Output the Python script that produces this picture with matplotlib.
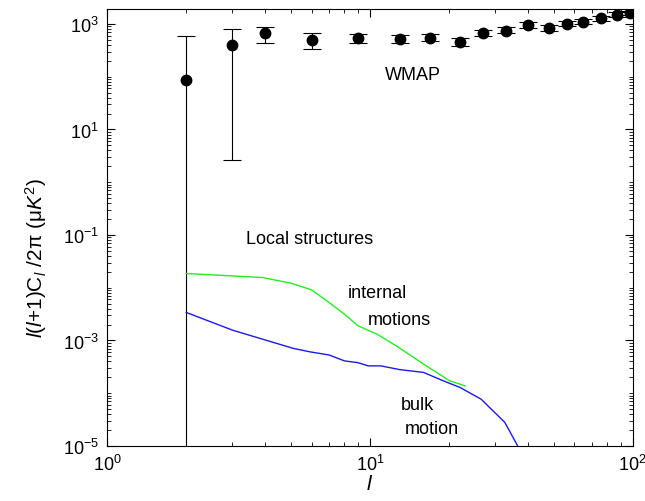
import numpy as np
import matplotlib
matplotlib.use('Agg')
import matplotlib.pyplot as plt
from matplotlib.ticker import LogLocator, FixedLocator, NullFormatter

plt.rcParams['font.family'] = ['Liberation Sans', 'DejaVu Sans']
plt.rcParams['mathtext.fontset'] = 'custom'
plt.rcParams['mathtext.rm'] = 'Liberation Sans'
plt.rcParams['mathtext.it'] = 'Liberation Sans:italic'

# WMAP binned power spectrum
wmap_l = [2, 3, 4, 6, 9, 13, 17, 22, 27, 33, 40, 48, 56, 64.5, 75.5, 87, 98]
wmap_cl = [85, 400, 660, 494, 540, 510, 550, 460, 670, 750, 950, 830, 1000, 1110, 1270, 1510, 1630]
wmap_hi = [580, 790, 860, 660, 650, 620, 640, 540, 780, 860, 1080, 940, 1120, 1230, 1400, 1660, 1780]
wmap_lo = [1e-7, 2.6, 440, 330, 440, 430, 470, 390, 580, 660, 850, 740, 900, 1000, 1150, 1380, 1500]

# local structures: internal motions
int_l = [2, 3.9, 5, 6, 7, 8, 9, 10.6, 12.6, 16, 20.1, 23]
int_cl = [0.0186, 0.0156, 0.0122, 0.0091, 0.0052, 0.00315, 0.0019, 0.00133, 0.00079, 0.000356, 0.000172, 0.000138]

# local structures: bulk motion
bulk_l = [2, 3, 3.9, 5.1, 5.9, 7, 8, 9, 9.85, 11, 13, 16, 19, 22, 26.5, 32.6, 36.5, 38]
bulk_cl = [0.0034, 0.00157, 0.00106, 0.00071, 0.00061, 0.00053, 0.00041, 0.00038, 0.00033, 0.00033,
           0.00028, 0.000248, 0.000172, 0.000129, 7.7e-5, 2.8e-5, 1e-5, 6e-6]

fig = plt.figure(figsize=(6.45, 5.02), dpi=100)
ax = fig.add_axes([0.166, 0.1096, 0.815, 0.870])

wmap_cl = np.array(wmap_cl)
yerr = [wmap_cl - np.array(wmap_lo), np.array(wmap_hi) - wmap_cl]
ax.errorbar(wmap_l, wmap_cl, yerr=yerr, fmt='o', color='black', ms=7.5,
            ecolor='black', elinewidth=0.8, capsize=6.5, capthick=0.8)

ax.plot(int_l, int_cl, color='#22ee22', lw=1.0)
ax.plot(bulk_l, bulk_cl, color='#1a1aee', lw=1.0)

ax.set_xscale('log')
ax.set_yscale('log')
ax.set_xlim(1, 100)
ax.set_ylim(1e-5, 1.9e3)

ax.yaxis.set_major_locator(FixedLocator([1e-5, 1e-3, 1e-1, 1e1, 1e3]))
ax.yaxis.set_minor_locator(LogLocator(base=10, subs=np.arange(1, 10), numticks=30))
ax.yaxis.set_minor_formatter(NullFormatter())
ax.xaxis.set_minor_locator(LogLocator(base=10, subs=np.arange(2, 10), numticks=30))
ax.xaxis.set_minor_formatter(NullFormatter())
ax.tick_params(which='both', direction='in', top=True, right=True, labelsize=13)
ax.tick_params(which='major', length=6, pad=6)
ax.tick_params(which='minor', length=3)

ax.set_xlabel('$l$', fontsize=15, labelpad=0)
ax.set_ylabel('$l$($l$+1)C$_l$ /2π (μ$K^2$)', fontsize=15)
ax.yaxis.set_label_coords(-0.110, 0.432)

ax.text(14.6, 110, 'WMAP', fontsize=13, ha='center', va='center')
ax.text(3.38, 0.087, 'Local structures', fontsize=13, ha='left', va='center')
ax.text(10.7, 0.0082, 'internal', fontsize=13, ha='center', va='center')
ax.text(12.9, 0.00253, 'motions', fontsize=13, ha='center', va='center')
ax.text(15.2, 6.2e-5, 'bulk', fontsize=13, ha='center', va='center')
ax.text(17.2, 2.1e-5, 'motion', fontsize=13, ha='center', va='center')

fig.savefig('out.png', dpi=100)
